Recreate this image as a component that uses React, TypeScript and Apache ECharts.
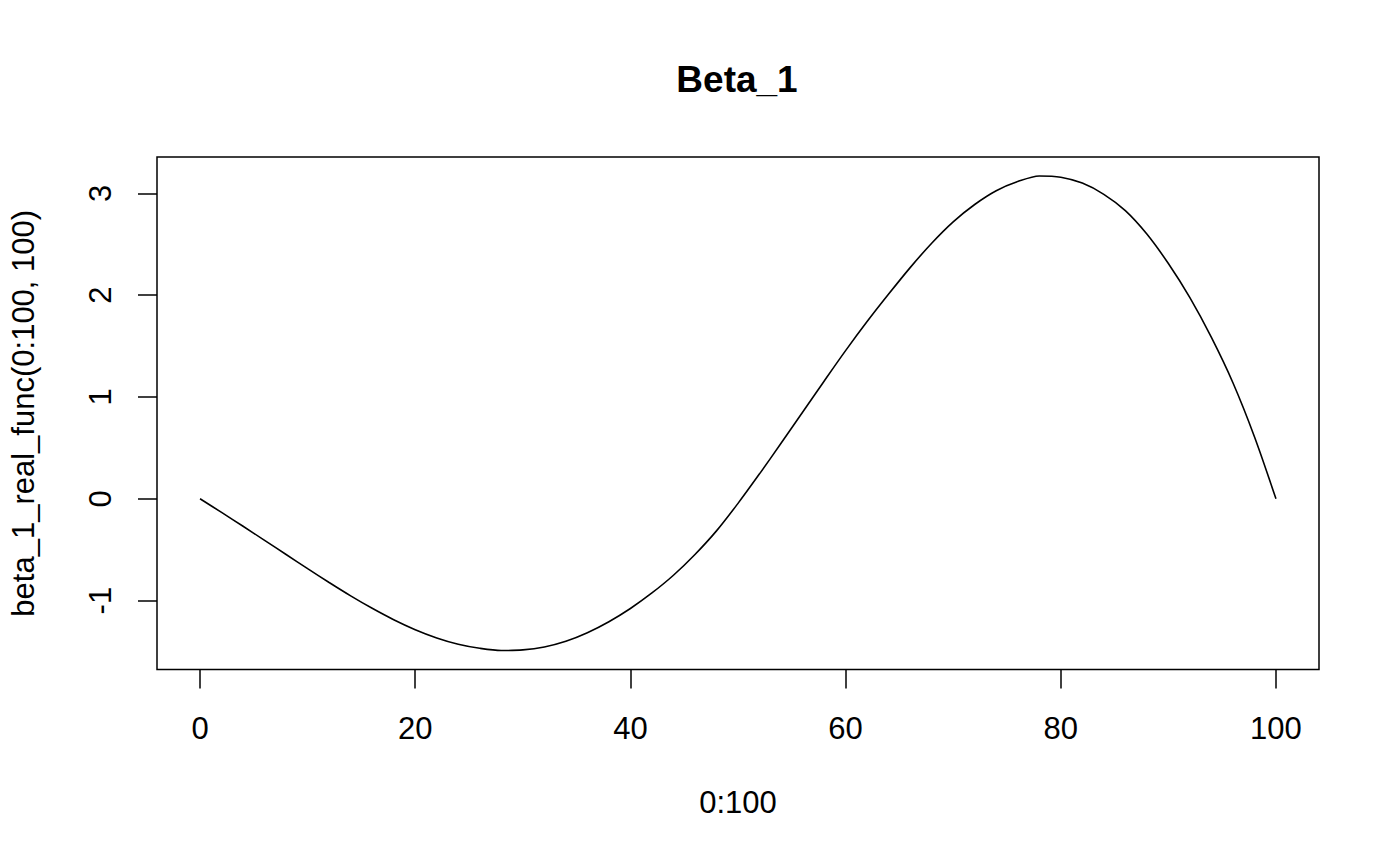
import React, { useEffect, useRef } from "react";
import * as echarts from "echarts";

const titleText = "Beta_1";
const xAxisName = "0:100";
const yAxisName = "beta_1_real_func(0:100, 100)";

const xTicks = [0, 20, 40, 60, 80, 100];
const yTicks = [-1, 0, 1, 2, 3];

const xValues = [
  0, 2, 4, 6, 8, 10, 12, 14, 16, 18, 20, 22, 24, 26, 28, 30, 32, 34, 36, 38, 40,
  42, 44, 46, 48, 50, 52, 54, 56, 58, 60, 62, 64, 66, 68, 70, 72, 74, 76, 78, 80,
  82, 84, 86, 88, 90, 92, 94, 96, 98, 100,
];
const yValues = [
  0, -0.134, -0.27, -0.408, -0.547, -0.686, -0.822, -0.953, -1.075, -1.187, -1.285,
  -1.366, -1.428, -1.468, -1.49, -1.484, -1.455, -1.399, -1.315, -1.207, -1.077,
  -0.925, -0.751, -0.547, -0.315, -0.045, 0.245, 0.545, 0.85, 1.155, 1.455,
  1.74, 2.01, 2.27, 2.51, 2.72, 2.89, 3.025, 3.115, 3.17, 3.158,
  3.1, 2.99, 2.83, 2.6, 2.31, 1.975, 1.585, 1.14, 0.61, 0,
];

const FONT = "'Liberation Sans', Arial, Helvetica, sans-serif";

export default function App() {
  const ref = useRef<HTMLDivElement>(null);

  useEffect(() => {
    if (!ref.current) return;
    const chart = echarts.init(ref.current, undefined, { renderer: "svg" });

    const xMinD = Math.min(...xValues);
    const xMaxD = Math.max(...xValues);
    const yMinD = Math.min(...yValues);
    const yMaxD = Math.max(...yValues);
    const xr = xMaxD - xMinD;
    const yr = yMaxD - yMinD;

    chart.setOption({
      animation: false,
      backgroundColor: "#ffffff",
      textStyle: { fontFamily: FONT, color: "#000" },
      grid: {
        left: 157,
        top: 157,
        right: 81,
        bottom: 196.5,
        show: true,
        borderColor: "#000",
        borderWidth: 1.5,
        backgroundColor: "transparent",
      },
      graphic: [
        {
          type: "text",
          x: 737,
          y: 79,
          style: {
            text: titleText,
            font: `bold 37px ${FONT}`,
            fill: "#000",
            textAlign: "center",
            textVerticalAlign: "middle",
          },
        },
      ],
      xAxis: {
        type: "value",
        min: xMinD - 0.04 * xr,
        max: xMaxD + 0.04 * xr,
        name: xAxisName,
        nameLocation: "middle",
        nameGap: 117,
        nameTextStyle: { fontSize: 31, color: "#000", fontFamily: FONT },
        axisLine: { show: false, onZero: false },
        splitLine: { show: false },
        axisTick: {
          show: true,
          inside: false,
          length: 19,
          customValues: xTicks,
          lineStyle: { color: "#000", width: 1.5 },
        },
        axisLabel: {
          show: true,
          customValues: xTicks,
          margin: 43,
          fontSize: 31,
          color: "#000",
          fontFamily: FONT,
        },
      },
      yAxis: {
        type: "value",
        min: yMinD - 0.04 * yr,
        max: yMaxD + 0.04 * yr,
        name: yAxisName,
        nameLocation: "middle",
        nameGap: 118,
        nameRotate: 90,
        nameTextStyle: { fontSize: 31, color: "#000", fontFamily: FONT },
        axisLine: { show: false, onZero: false },
        splitLine: { show: false },
        axisTick: {
          show: true,
          inside: false,
          length: 19,
          customValues: yTicks,
          lineStyle: { color: "#000", width: 1.5 },
        },
        axisLabel: {
          show: true,
          customValues: yTicks,
          rotate: 90,
          margin: 41,
          fontSize: 31,
          color: "#000",
          fontFamily: FONT,
        },
      },
      series: [
        {
          type: "line",
          data: xValues.map((x, i) => [x, yValues[i]]),
          showSymbol: false,
          symbol: "none",
          smooth: 0.3,
          lineStyle: { color: "#000", width: 1.6 },
          silent: true,
        },
      ],
    });

    return () => chart.dispose();
  }, []);

  return (
    <div
      ref={ref}
      style={{ position: "absolute", left: 0, top: 0, width: 1400, height: 866, background: "#fff" }}
    />
  );
}
